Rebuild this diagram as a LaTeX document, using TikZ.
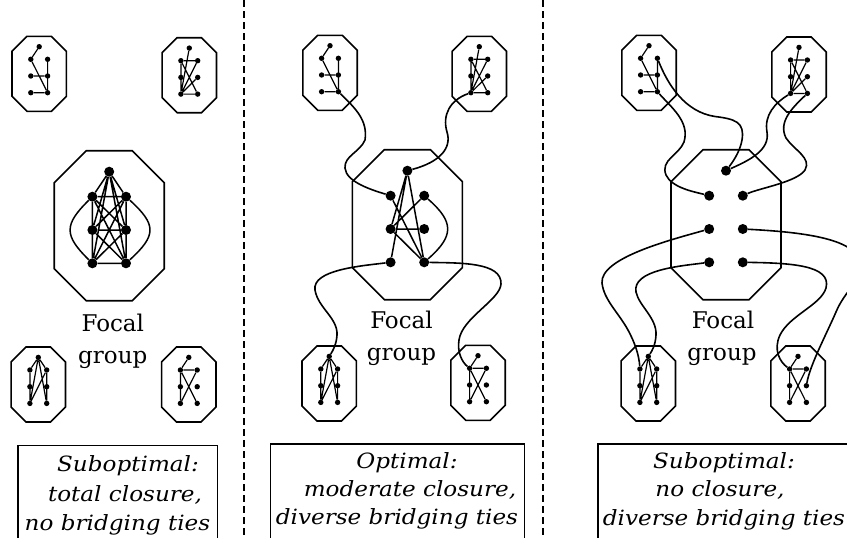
\documentclass[tikz,border=0pt]{standalone}
\usepackage{fontspec}
\setmainfont{DejaVu Serif}[ItalicFeatures={FakeStretch=1.1}]
\tikzset{
  octo/.style={draw, line width=1.6pt, line join=miter},
  sd/.style={circle, fill, inner sep=0pt, minimum size=5.4pt},
  fd/.style={circle, fill, inner sep=0pt, minimum size=10pt},
  ie/.style={line width=1.2pt},
  fe/.style={line width=1.5pt},
  tie/.style={line width=1.6pt},
  sepline/.style={line width=1.4pt, dash pattern=on 7pt off 4pt},
  focaltxt/.style={font=\fontsize{23}{28}\selectfont, anchor=base, inner sep=0pt},
  boxtxt/.style={font=\fontsize{21}{24}\selectfont\itshape, anchor=base, inner sep=0pt},
  tbox/.style={draw, line width=1.2pt, inner sep=0pt, anchor=north west, minimum height=110pt},
  pics/octa/.style n args={3}{code={
    \draw[octo] (-#1/2+#3,-#2/2) -- (#1/2-#3,-#2/2) -- (#1/2,-#2/2+#3) -- (#1/2,#2/2-#3)
      -- (#1/2-#3,#2/2) -- (-#1/2+#3,#2/2) -- (-#1/2,#2/2-#3) -- (-#1/2,-#2/2+#3) -- cycle;
  }}
}
\newcommand\smallgrp[3]{%
  \pic at (#2,#3+14.5) {octa={54.4}{75}{15}};
  \node[sd] (#1t)  at (#2,#3-12.6) {};
  \node[sd] (#1l1) at (#2-8.4,#3) {};
  \node[sd] (#1r1) at (#2+8.4,#3) {};
  \node[sd] (#1l2) at (#2-8.4,#3+16.7) {};
  \node[sd] (#1r2) at (#2+8.4,#3+16.7) {};
  \node[sd] (#1l3) at (#2-8.4,#3+33.4) {};
  \node[sd] (#1r3) at (#2+8.4,#3+33.4) {};
}
\newcommand\focalgrp[3]{%
  \pic at (#2,#3+29) {octa={110}{150}{32}};
  \node[fd] (#1t)  at (#2,#3-25) {};
  \node[fd] (#1l1) at (#2-16.8,#3) {};
  \node[fd] (#1r1) at (#2+16.8,#3) {};
  \node[fd] (#1l2) at (#2-16.8,#3+33.3) {};
  \node[fd] (#1r2) at (#2+16.8,#3+33.3) {};
  \node[fd] (#1l3) at (#2-16.8,#3+66.6) {};
  \node[fd] (#1r3) at (#2+16.8,#3+66.6) {};
}
\newcommand\edgesA[1]{\draw[ie] (#1t)--(#1l1) (#1l1)--(#1r3) (#1r1)--(#1r3) (#1l2)--(#1r2) (#1l3)--(#1r3);}
\newcommand\edgesB[1]{\draw[ie] (#1t)--(#1l3) (#1l1)--(#1r1) (#1l1)--(#1l3) (#1r1)--(#1l3) (#1l1)--(#1r3) (#1r2)--(#1l3) (#1l3)--(#1r3);}
\newcommand\edgesC[1]{\draw[ie] (#1t)--(#1l1) (#1t)--(#1r1) (#1t)--(#1l3) (#1t)--(#1r3) (#1l1)--(#1l3) (#1r1)--(#1r3) (#1r1)--(#1l3);}
\newcommand\edgesD[1]{\draw[ie] (#1t)--(#1l1) (#1l1)--(#1r1) (#1l1)--(#1l3) (#1l1)--(#1r3) (#1r1)--(#1l3);}
\begin{document}
\begin{tikzpicture}[x=1pt,y=-1pt]
\useasboundingbox (0,0) rectangle (847,538);
\clip (0,0) rectangle (847,538);
\fill[white] (0,0) rectangle (847,538);

% separators
\coordinate (s1a) at (244,0); \coordinate (s1b) at (244,540);
\coordinate (s2a) at (543,0); \coordinate (s2b) at (543,540);
\draw[sepline] (s1a) -- (s1b);
\draw[sepline] (s2a) -- (s2b);

% ---------- panel 1 ----------
\smallgrp{aTL}{39.2}{59.3}   \edgesA{aTL}
\smallgrp{aTR}{189.3}{60.7}  \edgesB{aTR}
\smallgrp{aBL}{38.3}{370}    \edgesC{aBL}
\smallgrp{aBR}{188.8}{370}   \edgesD{aBR}
\focalgrp{aF}{109.2}{196.7}
\draw[fe] (aFt)--(aFl1) (aFt)--(aFr1) (aFt)--(aFl2) (aFt)--(aFr2) (aFt)--(aFl3) (aFt)--(aFr3)
  (aFl1)--(aFr1) (aFl2)--(aFr2) (aFl3)--(aFr3)
  (aFl1)--(aFl2) (aFl2)--(aFl3) (aFr1)--(aFr2) (aFr2)--(aFr3)
  (aFl1)--(aFr2) (aFl1)--(aFr3) (aFr1)--(aFl2) (aFr1)--(aFl3) (aFl2)--(aFr3) (aFr2)--(aFl3);
\draw[fe] (aFl1) .. controls (63.9,224.7) and (63.9,235.3) .. (aFl3);
\draw[fe] (aFr1) .. controls (156.7,224.7) and (156.7,235.3) .. (aFr3);
\node[focaltxt] (aT1) at (112.8,331.7) {Focal};
\node[focaltxt] (aT2) at (112.8,363.3) {group};
\node[tbox, minimum width=199.4pt] (aBox) at (17.3,445) {};
\node[boxtxt] (aL1) at (128,471.7) {Suboptimal:};
\node[boxtxt] (aL2) at (125,501.7) {total closure,};
\node[boxtxt] (aL3) at (117.5,530) {no bridging ties};

% ---------- panel 2 ----------
\smallgrp{bTL}{330}{58.3}    \edgesA{bTL}
\smallgrp{bTR}{479.3}{59.3}  \edgesB{bTR}
\smallgrp{bBL}{329.2}{369}   \edgesC{bBL}
\smallgrp{bBR}{478}{368.3}   \edgesD{bBR}
\focalgrp{bF}{407.4}{195.7}
\draw[fe] (bFt)--(bFl2) (bFt)--(bFl3) (bFt)--(bFr3) (bFl1)--(bFr3) (bFr1)--(bFl2)
  (bFl2)--(bFr2) (bFl2)--(bFr3);
\draw[fe] (bFr1) .. controls (454.2,222) and (454.2,236) .. (bFr3);
\draw[tie] (bTLr3) .. controls (355,108) and (368,120) .. (365,140) .. controls (360,152) and (344,156) .. (345,168) .. controls (346,182) and (372,190) .. (bFl1);
\draw[tie] (bTRl3) .. controls (450,100) and (442,115) .. (447,132) .. controls (452,148) and (440,162) .. (bFt);
\draw[tie] (bFl3) .. controls (360,266) and (312,270) .. (315,290) .. controls (318,308) and (338,318) .. (337,335) .. controls (336.5,345) and (332,352) .. (bBLt);
\draw[tie] (bFr3) .. controls (460,263) and (502,262) .. (501,284) .. controls (500,300) and (462,318) .. (459,340) .. controls (457,352) and (462,362) .. (bBRl1);
\node[focaltxt] (bT1) at (401.5,328.3) {Focal};
\node[focaltxt] (bT2) at (401.5,360) {group};
\node[tbox, minimum width=254pt] (bBox) at (270,443.3) {};
\node[boxtxt] (bL1) at (407,468.3) {Optimal:};
\node[boxtxt] (bL2) at (410,496.7) {moderate closure,};
\node[boxtxt] (bL3) at (397,524.3) {diverse bridging ties};

% ---------- panel 3 ----------
\smallgrp{cTL}{649}{58.3}    \edgesA{cTL}
\smallgrp{cTR}{799}{60}      \edgesB{cTR}
\smallgrp{cBL}{648.3}{369}   \edgesC{cBL}
\smallgrp{cBR}{798}{369}     \edgesD{cBR}
\focalgrp{cF}{726}{195.7}
\draw[tie] (cTLr3) .. controls (672,108) and (690,122) .. (684,142) .. controls (679,155) and (660,160) .. (666,175) .. controls (672,188) and (695,192) .. (cFl1);
\draw[tie] (cTLr1) .. controls (668,85) and (685,112) .. (715,116.5) .. controls (735,119) and (745,122) .. (742,140) .. controls (740,152) and (732,163) .. (cFt);
\draw[tie] (cTRl3) .. controls (775,103) and (764,115) .. (767,132) .. controls (770,150) and (750,160) .. (cFt);
\draw[tie] (cTRr3) .. controls (792,108) and (778,122) .. (786,138) .. controls (794,150) and (812,158) .. (805,170) .. controls (797,182) and (760,188) .. (cFr1);
\draw[tie] (cFl2) .. controls (670,240) and (600,258) .. (602,283) .. controls (604,300) and (618,312) .. (628,330) .. controls (635,343) and (639,355) .. (cBLl1);
\draw[tie] (cFl3) .. controls (680,266) and (632,270) .. (636,292) .. controls (639,306) and (657,318) .. (656,335) .. controls (655.5,345) and (652,351) .. (cBLt);
\draw[tie] (cFr3) .. controls (790,263) and (832,265) .. (826,288) .. controls (821,305) and (790,315) .. (780,335) .. controls (773,350) and (780,362) .. (cBRl1);
\draw[tie] (cFr2) .. controls (800,232) and (855,238) .. (860,262) .. controls (863,280) and (845,290) .. (836,312) .. controls (826,335) and (810,365) .. (cBRr2);
\node[focaltxt] (cT1) at (723,328.3) {Focal};
\node[focaltxt] (cT2) at (722,360) {group};
\node[tbox, minimum width=260pt] (cBox) at (597.3,443.3) {};
\node[boxtxt] (cL1) at (724,468.3) {Suboptimal:};
\node[boxtxt] (cL2) at (720,496.7) {no closure,};
\node[boxtxt] (cL3) at (724,525) {diverse bridging ties};
\end{tikzpicture}
\end{document}
